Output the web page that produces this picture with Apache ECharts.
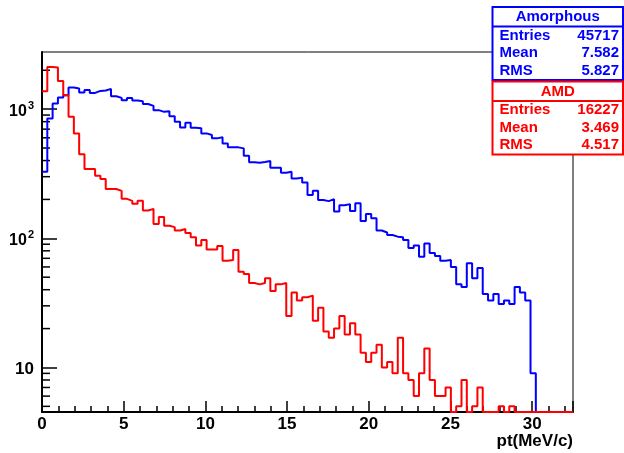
<!DOCTYPE html>
<html>
<head>
<meta charset="utf-8">
<script src="https://cdn.jsdelivr.net/npm/echarts@6/dist/echarts.min.js"></script>
<style>
  html, body { margin: 0; padding: 0; background: #fff; }
  #chart { width: 624px; height: 453px; }
</style>
</head>
<body>
<div id="chart"></div>
<script>
// ---- histogram definition ----
const X_MIN = 0;
const X_MAX = 32.5;
const N_BINS = 100;
const Y_MIN = 4.52;
const Y_MAX = 2770;

// bin contents (counts per bin)
const amorphousCounts = [
  328, 847, 1107, 1231, 1283, 1471, 1445, 1346, 1410, 1336,
  1384, 1394, 1435, 1260, 1222, 1174, 1222, 1167, 1153, 1097,
  1061, 982, 953, 965, 883, 798, 722, 784, 717, 710,
  649, 630, 594, 605, 543, 506, 506, 497, 436, 388,
  385, 390, 397, 352, 352, 322, 328, 290, 295, 270,
  216, 233, 198, 194, 201, 161, 180, 184, 163, 187,
  136, 154, 143, 115, 111, 106, 103, 102, 97, 84,
  88, 72, 91, 77, 73, 67, 68, 60, 44, 42,
  64, 49, 59, 37, 33, 37, 31, 33, 31, 42,
  38, 33, 9, 0, 0, 0, 0, 0, 0, 0
];
const amdCounts = [
  1377, 2122, 2099, 1654, 1283, 872, 649, 447, 344, 344,
  305, 288, 241, 241, 233, 202, 195, 185, 195, 164,
  169, 129, 146, 125, 122, 115, 118, 110, 102, 88,
  97, 82, 82, 87, 67, 68, 81, 55, 53, 45,
  44, 45, 49, 39, 44, 45, 25, 38, 33, 35,
  36, 23, 29, 19, 17, 20, 25, 18, 22, 18,
  13, 11, 13, 15, 10, 11, 9, 17, 9, 8,
  6, 9, 14, 8, 6, 6, 7, 0, 5, 8,
  0, 5, 7, 0, 0, 0, 5, 0, 5, 0,
  0, 0, 0, 0, 0, 0, 0, 0, 0, 0
];

// statistics boxes
const amorphousStats = { title: 'Amorphous', rows: [['Entries', '45717'], ['Mean', '7.582'], ['RMS', '5.827']] };
const amdStats = { title: 'AMD', rows: [['Entries', '16227'], ['Mean', '3.469'], ['RMS', '4.517']] };

// axis tick values
const xMajorStep = 5;
const yMinorTickValues = [5, 6, 7, 8, 9, 20, 30, 40, 50, 60, 70, 80, 90, 200, 300, 400, 500, 600, 700, 800, 900, 2000];
const xTitle = 'pt(MeV/c)';

// ---- build ----
const FONT = 'Liberation Sans, Arial, Helvetica, sans-serif';
const binWidth = (X_MAX - X_MIN) / N_BINS;
function histPoints(counts) {
  const pts = counts.map((c, i) => [X_MIN + i * binWidth, c > Y_MIN ? c : Y_MIN]);
  const last = counts[counts.length - 1];
  pts.push([X_MAX, last > Y_MIN ? last : Y_MIN]);
  return pts;
}

function statGraphic(stats, color, top) {
  const left = 492.5, right = 623, titleH = 19.5, rowH = 17.5;
  const h = titleH + rowH * stats.rows.length + 1;
  const els = [
    { type: 'rect', shape: { x: left, y: top, width: right - left, height: h },
      style: { fill: '#fff', stroke: color, lineWidth: 2 }, z: 100 },
    { type: 'line', shape: { x1: left, y1: top + titleH, x2: right, y2: top + titleH },
      style: { stroke: color, lineWidth: 2 }, z: 101 },
    { type: 'text', x: (left + right) / 2, y: top + titleH / 2 + 0.5, z: 102,
      style: { text: stats.title, fill: color, font: 'bold 15px ' + FONT, align: 'center', verticalAlign: 'middle' } }
  ];
  stats.rows.forEach((r, k) => {
    const cy = top + titleH + rowH * (k + 0.5) + 0.5;
    els.push({ type: 'text', x: left + 7, y: cy, z: 102,
      style: { text: r[0], fill: color, font: 'bold 15px ' + FONT, align: 'left', verticalAlign: 'middle' } });
    els.push({ type: 'text', x: right - 4, y: cy, z: 102,
      style: { text: r[1], fill: color, font: 'bold 15px ' + FONT, align: 'right', verticalAlign: 'middle' } });
  });
  return els;
}

const chart = echarts.init(document.getElementById('chart'), null, { renderer: 'canvas' });
chart.setOption({
  animation: false,
  backgroundColor: '#fff',
  grid: { left: 42, right: 51, top: 52, bottom: 41, show: true, borderColor: '#000', borderWidth: 1, backgroundColor: 'transparent' },
  xAxis: {
    type: 'value', min: X_MIN, max: X_MAX, interval: xMajorStep,
    axisLine: { lineStyle: { color: '#000', width: 2 } },
    axisTick: { inside: true, length: 11, lineStyle: { color: '#000', width: 1.5 } },
    minorTick: { show: true, splitNumber: 5, length: 6, lineStyle: { color: '#000', width: 1.5 } },
    splitLine: { show: false },
    axisLabel: {
      color: '#000', fontFamily: FONT, fontWeight: 'bold', fontSize: 17, margin: 4,
      showMaxLabel: false,
      formatter: v => (Math.abs(v / xMajorStep - Math.round(v / xMajorStep)) < 1e-9 ? String(v) : '')
    },
    name: xTitle, nameLocation: 'end', nameGap: 0,
    nameTextStyle: { color: '#000', fontFamily: FONT, fontWeight: 'bold', fontSize: 17, align: 'right', verticalAlign: 'top', padding: [21, 0, 0, 0] }
  },
  yAxis: {
    type: 'log', logBase: 10, min: Y_MIN, max: Y_MAX,
    axisLine: { lineStyle: { color: '#000', width: 2 } },
    axisTick: { inside: true, length: 15, lineStyle: { color: '#000', width: 1.5 } },
    splitLine: { show: false },
    axisLabel: {
      color: '#000', fontFamily: FONT, fontWeight: 'bold', margin: 8,
      showMinLabel: false, showMaxLabel: false,
      formatter: v => {
        const l = Math.log10(v), e = Math.round(l);
        if (Math.abs(l - e) > 1e-6) return '';
        if (e === 1) return '{b|10}';
        return '{s|10}{sup|' + e + '}';
      },
      rich: {
        b: { fontFamily: FONT, fontWeight: 'bold', fontSize: 17, color: '#000', padding: [3, 0, 0, 0] },
        s: { fontFamily: FONT, fontWeight: 'bold', fontSize: 16, color: '#000', padding: [5, 0, 0, 0] },
        sup: { fontFamily: FONT, fontWeight: 'bold', fontSize: 11, color: '#000', padding: [0, 0, 7, 1] }
      }
    }
  },
  series: [
    { name: 'Amorphous', type: 'line', step: 'end', showSymbol: false, symbol: 'none', clip: false,
      lineStyle: { color: '#0000ff', width: 2 }, data: histPoints(amorphousCounts), z: 3 },
    { name: 'AMD', type: 'line', step: 'end', showSymbol: false, symbol: 'none', clip: false,
      lineStyle: { color: '#ff0000', width: 2 }, data: histPoints(amdCounts), z: 4 },
    { name: 'yMinorTicks', type: 'custom', silent: true, clip: false, z: 1,
      data: yMinorTickValues.map(v => [X_MIN, v]),
      renderItem: (params, api) => {
        const p = api.coord([api.value(0), api.value(1)]);
        return { type: 'line', shape: { x1: p[0], y1: p[1], x2: p[0] + 8, y2: p[1] },
                 style: { stroke: '#000', lineWidth: 1.5 } };
      } }
  ],
  graphic: { elements: [].concat(statGraphic(amorphousStats, '#0000ff', 7), statGraphic(amdStats, '#ff0000', 81.5)) }
});
</script>
</body>
</html>
